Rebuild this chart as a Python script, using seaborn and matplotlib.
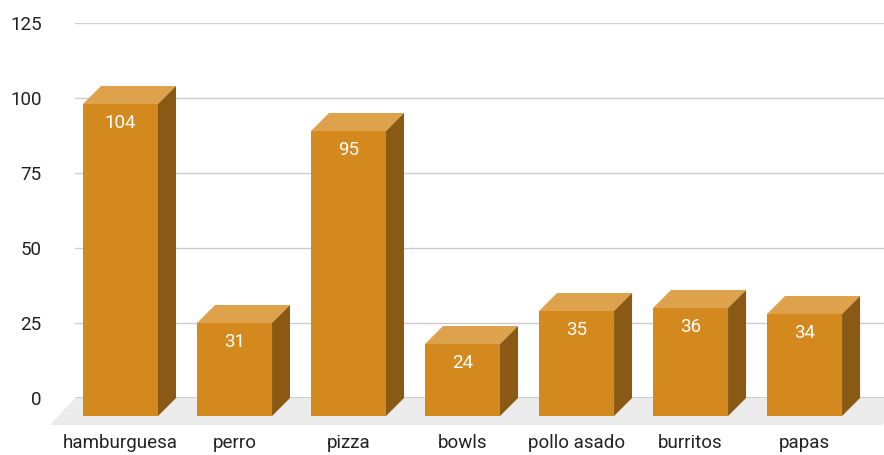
import matplotlib
matplotlib.use("Agg")
import matplotlib.pyplot as plt
import matplotlib.transforms as mtransforms
from matplotlib.patches import Polygon
import seaborn as sns
import pandas as pd

categories = ["hamburguesa", "perro", "pizza", "bowls", "pollo asado", "burritos", "papas"]
values = [104, 31, 95, 24, 35, 36, 34]
y_ticks = [0, 25, 50, 75, 100, 125]

FRONT = "#D4891E"
TOP = "#DEA14C"
SIDE = "#8A5A15"
FLOOR = "#EBEBEB"
TEXT = "#222222"
FS = 13.5

DEPTH = 18        # bar depth in pixels (diagonal offset of front face)
FLOOR_DX, FLOOR_DY = 25, 27

sns.set_theme(style="white")
plt.rcParams["font.family"] = ["Roboto", "DejaVu Sans"]

W, H, DPI = 884, 455, 100
fig = plt.figure(figsize=(W / DPI, H / DPI), dpi=DPI)
ax = fig.add_axes([75 / W, (H - 398) / H, (W - 75) / W, (398 - 23) / H])

df = pd.DataFrame({"item": categories, "count": values})
sns.barplot(data=df, x="item", y="count", color=FRONT, saturation=1,
            width=75 / 114, ax=ax, zorder=3)

ax.set_xlim(-0.557, 6.539)
ax.set_ylim(0, 125)
ax.set_yticks(y_ticks)
ax.set_xlabel("")
ax.set_ylabel("")
for s in ax.spines.values():
    s.set_visible(False)
ax.yaxis.grid(True, color="#CCCCCC", lw=1, zorder=0)
ax.xaxis.grid(False)
ax.axhline(0, color="#333333", lw=1, zorder=1)

# pixel -> data unit conversion
p0 = ax.transData.transform((0, 0))
p1 = ax.transData.transform((1, 1))
px_x = p1[0] - p0[0]
px_y = p1[1] - p0[1]
dxd = DEPTH / px_x
dyd = DEPTH / px_y

front_shift = ax.transData + mtransforms.ScaledTranslation(
    -DEPTH / DPI, -DEPTH / DPI, fig.dpi_scale_trans)

# floor plane
x_lo, x_hi = ax.get_xlim()
fdx, fdy = FLOOR_DX / px_x, FLOOR_DY / px_y
floor = Polygon([(x_lo, 0), (x_hi + 0.2, 0), (x_hi + 0.2 - fdx, -fdy), (x_lo - fdx, -fdy)],
                closed=True, facecolor=FLOOR, edgecolor="none", zorder=0.5, clip_on=False)
ax.add_patch(floor)

for patch, v in zip(ax.patches[:len(values)], values):
    x0, w, h = patch.get_x(), patch.get_width(), patch.get_height()
    patch.set_transform(front_shift)
    patch.set_clip_on(False)
    patch.set_edgecolor("none")
    top = Polygon([(x0 - dxd, h - dyd), (x0 + w - dxd, h - dyd), (x0 + w, h), (x0, h)],
                  closed=True, facecolor=TOP, edgecolor="none", zorder=2.5, clip_on=False)
    side = Polygon([(x0 + w - dxd, h - dyd), (x0 + w, h), (x0 + w, 0), (x0 + w - dxd, -dyd)],
                   closed=True, facecolor=SIDE, edgecolor="none", zorder=2.5, clip_on=False)
    ax.add_patch(top)
    ax.add_patch(side)
    lbl_tr = ax.transData + mtransforms.ScaledTranslation(
        -DEPTH / DPI, -(DEPTH + 19) / DPI, fig.dpi_scale_trans)
    ax.text(x0 + w / 2, h, f"{v}", transform=lbl_tr, ha="center", va="center",
            color="white", fontsize=FS, zorder=4)

ax.tick_params(axis="both", length=0, labelsize=FS, labelcolor=TEXT)
ax.tick_params(axis="y", pad=24)
ax.tick_params(axis="x", pad=26)
xshift = mtransforms.ScaledTranslation(-DEPTH / DPI, 0, fig.dpi_scale_trans)
for t in ax.get_xticklabels():
    t.set_transform(t.get_transform() + xshift)

fig.savefig("out.png", dpi=DPI)
